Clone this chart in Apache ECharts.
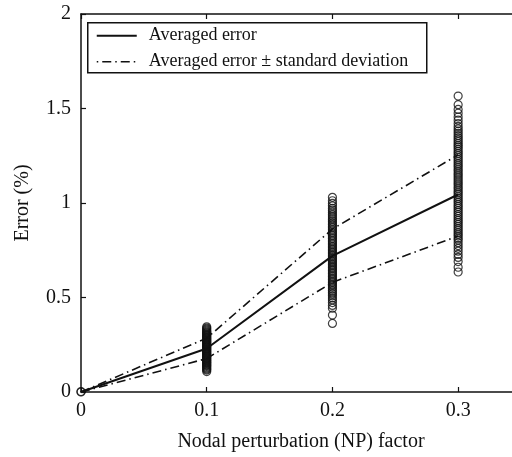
<!DOCTYPE html>
<html>
<head>
<meta charset="utf-8">
<script src="https://cdn.jsdelivr.net/npm/echarts@6/dist/echarts.min.js"></script>
<style>html,body{margin:0;padding:0;background:#fff;}#c{width:512px;height:457px;}</style>
</head>
<body>
<div id="c"></div>
<script>
// NP factors (x positions)
const npFactors = [0, 0.1, 0.2, 0.3];
// Averaged error and +/- standard deviation curves
const meanErr  = [0, 0.230, 0.720, 1.045];
const upperErr = [0, 0.285, 0.862, 1.255];
const lowerErr = [0, 0.177, 0.580, 0.825];
// Individual sample errors per NP factor
const samples00 = [0, 0.002];
const samples01 = [0.345, 0.338, 0.333, 0.327, 0.322, 0.317, 0.313, 0.309, 0.304, 0.300, 0.297, 0.292,
  0.288, 0.285, 0.280, 0.276, 0.273, 0.268, 0.264, 0.261, 0.256, 0.252, 0.249, 0.244, 0.240, 0.237,
  0.232, 0.228, 0.225, 0.220, 0.216, 0.213, 0.208, 0.204, 0.201, 0.196, 0.192, 0.189, 0.184, 0.180,
  0.177, 0.172, 0.168, 0.165, 0.160, 0.156, 0.153, 0.148, 0.144, 0.140, 0.136, 0.131, 0.126, 0.121,
  0.116, 0.108];
const samples02 = [1.030, 1.012, 0.998, 0.985, 0.972, 0.962, 0.951, 0.940, 0.931, 0.921, 0.912, 0.903,
  0.894, 0.886, 0.877, 0.869, 0.861, 0.852, 0.844, 0.836, 0.828, 0.820, 0.812, 0.803, 0.795, 0.787,
  0.779, 0.771, 0.763, 0.755, 0.747, 0.739, 0.731, 0.723, 0.715, 0.707, 0.699, 0.691, 0.683, 0.675,
  0.667, 0.659, 0.651, 0.643, 0.635, 0.627, 0.619, 0.611, 0.603, 0.595, 0.587, 0.579, 0.571, 0.563,
  0.555, 0.546, 0.537, 0.528, 0.519, 0.509, 0.498, 0.487, 0.473, 0.458, 0.443, 0.407, 0.363];
const samples03 = [1.566, 1.520, 1.495, 1.475, 1.455, 1.438, 1.420, 1.405, 1.392, 1.380, 1.368, 1.356,
  1.345, 1.334, 1.324, 1.314, 1.304, 1.295, 1.284, 1.273, 1.263, 1.252, 1.242, 1.231, 1.221, 1.210,
  1.200, 1.190, 1.179, 1.169, 1.158, 1.148, 1.137, 1.127, 1.117, 1.106, 1.096, 1.085, 1.075, 1.064,
  1.054, 1.044, 1.033, 1.023, 1.012, 1.002, 0.991, 0.981, 0.971, 0.960, 0.950, 0.939, 0.929, 0.918,
  0.908, 0.898, 0.887, 0.877, 0.866, 0.856, 0.845, 0.835, 0.825, 0.814, 0.804, 0.790, 0.775, 0.760,
  0.745, 0.728, 0.712, 0.690, 0.660, 0.635];
const xTicks = ['0', '0.1', '0.2', '0.3'];
const yTicks = ['0', '0.5', '1', '1.5', '2'];

const sampleGroups = [samples00, samples01, samples02, samples03];
const scatterData = [];
sampleGroups.forEach((g, i) => g.forEach(v => scatterData.push([npFactors[i], v])));
const pairs = arr => npFactors.map((x, i) => [x, arr[i]]);

const FONT = 'Liberation Serif';
const dashDot = [9, 4, 1.5, 4];
const chart = echarts.init(document.getElementById('c'), null, {renderer: 'canvas'});
chart.setOption({
  animation: false,
  backgroundColor: '#fff',
  grid: {left: 81, top: 14, width: 440, height: 378, containLabel: false, outerBoundsMode: 'none'},
  xAxis: [{
    type: 'value', min: 0, max: 0.35, interval: 0.1,
    name: 'Nodal perturbation (NP) factor', nameLocation: 'middle', nameGap: 40,
    nameTextStyle: {fontFamily: FONT, fontSize: 20, color: '#111'},
    axisLine: {show: true, onZero: false, lineStyle: {color: '#111', width: 1.5}},
    axisTick: {show: true, inside: true, length: 5, lineStyle: {color: '#111', width: 1.2}},
    axisLabel: {fontFamily: FONT, fontSize: 20, color: '#111', margin: 9, showMaxLabel: false,
      formatter: v => { const i = Math.round(v * 10); return Math.abs(v * 10 - i) < 1e-6 && i < xTicks.length ? xTicks[i] : ''; }},
    splitLine: {show: false}
  }, {
    type: 'value', min: 0, max: 0.35, interval: 0.1, position: 'top',
    axisLine: {show: true, onZero: false, lineStyle: {color: '#111', width: 1.5}},
    axisTick: {show: true, inside: true, length: 5, lineStyle: {color: '#111', width: 1.2}},
    axisLabel: {show: false}, splitLine: {show: false}
  }],
  yAxis: {
    type: 'value', min: 0, max: 2, interval: 0.5,
    name: 'Error (%)', nameLocation: 'middle', nameGap: 48,
    nameTextStyle: {fontFamily: FONT, fontSize: 20, color: '#111'},
    axisLine: {show: true, onZero: false, lineStyle: {color: '#111', width: 1.5}},
    axisTick: {show: true, inside: true, length: 5, lineStyle: {color: '#111', width: 1.2}},
    axisLabel: {fontFamily: FONT, fontSize: 20, color: '#111', margin: 10,
      formatter: v => yTicks[Math.round(v * 2)]},
    splitLine: {show: false}
  },
  series: [{
    type: 'scatter', data: scatterData, symbol: 'circle', symbolSize: 8,
    itemStyle: {color: 'rgba(0,0,0,0)', borderColor: '#111', borderWidth: 1.2}, z: 2
  }, {
    name: 'Averaged error', type: 'line', data: pairs(meanErr), showSymbol: false,
    lineStyle: {color: '#111', width: 2, type: 'solid'}, z: 3
  }, {
    name: 'Averaged error ± standard deviation', type: 'line', data: pairs(upperErr), showSymbol: false,
    lineStyle: {color: '#111', width: 1.6, type: dashDot}, z: 3
  }, {
    type: 'line', data: pairs(lowerErr), showSymbol: false,
    lineStyle: {color: '#111', width: 1.6, type: dashDot}, z: 3
  }],
  graphic: [{
    type: 'group', left: 87, top: 22, z: 100,
    children: [
      {type: 'rect', shape: {x: 0, y: 0, width: 339, height: 50}, style: {fill: '#fff', stroke: '#111', lineWidth: 1.5}},
      {type: 'line', shape: {x1: 9, y1: 13, x2: 49, y2: 13}, style: {stroke: '#111', lineWidth: 2}},
      {type: 'text', x: 61, y: 13, style: {text: 'Averaged error', font: '18px "Liberation Serif"', fill: '#111', verticalAlign: 'middle'}},
      {type: 'line', shape: {x1: 9, y1: 39, x2: 49, y2: 39}, style: {stroke: '#111', lineWidth: 1.6, lineDash: [1.5, 4, 9, 4]}},
      {type: 'text', x: 61, y: 39, style: {text: 'Averaged error ± standard deviation', font: '18px "Liberation Serif"', fill: '#111', verticalAlign: 'middle'}}
    ]
  }]
});
</script>
</body>
</html>
